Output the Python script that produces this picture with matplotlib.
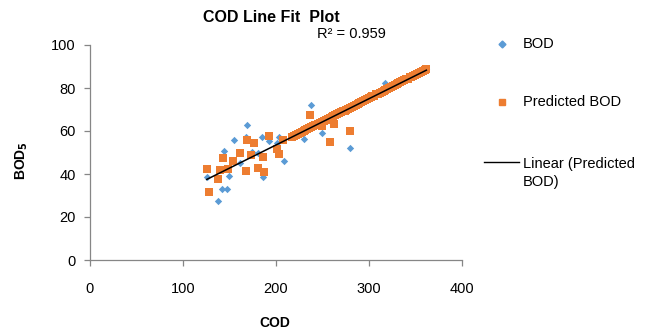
import matplotlib
matplotlib.use("Agg")
import matplotlib.pyplot as plt
import numpy as np
from matplotlib.lines import Line2D

# ---- data ----
cod_obs = [125.8, 138.3, 142, 148, 144, 149.5, 155.2, 161.6, 167.7, 168.8, 174.2,
           181.3, 185.6, 186.7, 192.8, 201.7, 203.5, 209, 230.8, 237.6, 249.8,
           279.9, 317.5,
           220, 228, 234, 242, 250, 258, 266, 274, 282, 290, 298, 306, 314, 322,
           330, 338, 346, 354, 362]
bod_obs = [38.7, 27.6, 33, 33, 50.8, 39, 55.8, 45, 57.3, 62.9, 50.1,
           49.9, 57, 38.8, 55.5, 54.3, 57, 46.2, 56.1, 72.1, 59.2,
           52.1, 82.2,
           57.4, 59.5, 60.8, 62.6, 64.3, 66.0, 67.8, 69.5, 71.3, 73.0, 74.8, 76.5,
           78.3, 80.0, 81.8, 83.5, 85.3, 87.0, 88.8]

cod_pred = [125.8, 128, 138.3, 140, 149, 143.7, 154.4, 161.6, 167.7, 168.8, 176.7,
            173.4, 186, 181.3, 187, 192.8, 201, 203.5, 208.2, 237, 258.4, 262.7,
            280, 249.4,
            218, 220, 222, 224, 226, 228, 230, 232, 234, 236, 238, 240, 242, 244,
            246, 248, 250, 252, 254, 256, 258, 260, 262, 264, 266, 268, 270, 272,
            274, 276, 278, 280, 282, 284, 286, 288, 290, 292, 294, 296, 298, 300,
            302, 304, 306, 308, 310, 312, 314, 316, 318, 320, 322, 324, 326, 328,
            330, 332, 334, 336, 338, 340, 342, 344, 346, 348, 350, 352, 354, 356,
            358, 360, 362]
bod_pred = [42.2, 31.8, 37.8, 41.9, 42.2, 47.6, 46, 49.9, 41.4, 55.8, 54.3,
            48.8, 48, 42.9, 40.8, 57.7, 51.5, 49.2, 55.8, 67.4, 55, 63.3,
            60.2, 62.5,
            57.3, 57.7, 58.2, 58.6, 59.1, 59.5, 59.9, 60.4, 60.8, 61.2, 61.7, 62.1,
            62.6, 63.0, 63.4, 63.9, 64.3, 64.7, 65.2, 65.6, 66.0, 66.5, 66.9, 67.4,
            67.8, 68.2, 68.7, 69.1, 69.5, 70.0, 70.4, 70.9, 71.3, 71.7, 72.2, 72.6,
            73.0, 73.5, 73.9, 74.4, 74.8, 75.2, 75.7, 76.1, 76.5, 77.0, 77.4, 77.9,
            78.3, 78.7, 79.2, 79.6, 80.0, 80.5, 80.9, 81.4, 81.8, 82.2, 82.7, 83.1,
            83.5, 84.0, 84.4, 84.9, 85.3, 85.7, 86.2, 86.6, 87.0, 87.5, 87.9, 88.4,
            88.8]

x_ticks = [0, 100, 200, 300, 400]
y_ticks = [0, 20, 40, 60, 80, 100]

title = "COD Line Fit  Plot"
r2_label = "R² = 0.959"

BLUE = "#5B9BD5"
ORANGE = "#ED7D31"
GREY = "#868686"
FONT = ["Liberation Sans", "DejaVu Sans"]

plt.rcParams['font.family'] = FONT

fig = plt.figure(figsize=(6.64, 3.36), dpi=100)
W, H = 664, 336
ax = fig.add_axes([89.7 / W, 1 - 260 / H, (461.7 - 89.7) / W, (260 - 45) / H])

ax.scatter(cod_obs, bod_obs, marker="D", s=14, color=BLUE, linewidths=0, zorder=2)
ax.scatter(cod_pred, bod_pred, marker="s", s=28, color=ORANGE, linewidths=0, zorder=3)

# linear trendline of predicted BOD
coef = np.polyfit(cod_pred, bod_pred, 1)
xs = np.array([min(cod_pred), max(cod_pred)])
ax.plot(xs, np.polyval(coef, xs), color="black", lw=1.1, zorder=4)

ax.set_xlim(0, 400)
ax.set_ylim(0, 100)
ax.set_xticks(x_ticks)
ax.set_yticks(y_ticks)
for s in ["top", "right"]:
    ax.spines[s].set_visible(False)
for s in ["left", "bottom"]:
    ax.spines[s].set_color(GREY)
    ax.spines[s].set_linewidth(0.9)
ax.tick_params(axis="both", direction="out", length=4, width=0.9, color=GREY,
               labelsize=10.5, labelcolor="black")
ax.tick_params(axis="x", pad=12)
ax.tick_params(axis="y", pad=6)

fig.text(271 / W, 1 - 17 / H, title, ha="center", va="center",
         fontsize=11.5, fontweight="bold")
fig.text(351 / W, 1 - 34 / H, r2_label, ha="center", va="center", fontsize=10.5)
fig.text(275 / W, 1 - 323 / H, "COD", ha="center", va="center",
         fontsize=10, fontweight="bold")
fig.text(22 / W, 1 - 160 / H, r"BOD$_\mathbf{5}$", ha="center", va="center",
         fontsize=10, fontweight="bold", rotation=90)

# legend (outside, right)
fig.add_artist(Line2D([502 / W], [1 - 44 / H], marker="D", markersize=3.5,
                      color=BLUE, linestyle="none", transform=fig.transFigure))
fig.text(523 / W, 1 - 44 / H, "BOD", ha="left", va="center", fontsize=10.5)
fig.add_artist(Line2D([502 / W], [1 - 102 / H], marker="s", markersize=4.5,
                      color=ORANGE, linestyle="none", transform=fig.transFigure))
fig.text(523 / W, 1 - 102 / H, "Predicted BOD", ha="left", va="center", fontsize=10.5)
fig.add_artist(Line2D([484 / W, 519 / W], [1 - 162 / H, 1 - 162 / H], color="black",
                      lw=1.0, transform=fig.transFigure))
fig.text(523 / W, 1 - 173 / H, "Linear (Predicted\nBOD)", ha="left", va="center",
         fontsize=10.5, linespacing=1.45)

fig.savefig("out.png", dpi=100)
